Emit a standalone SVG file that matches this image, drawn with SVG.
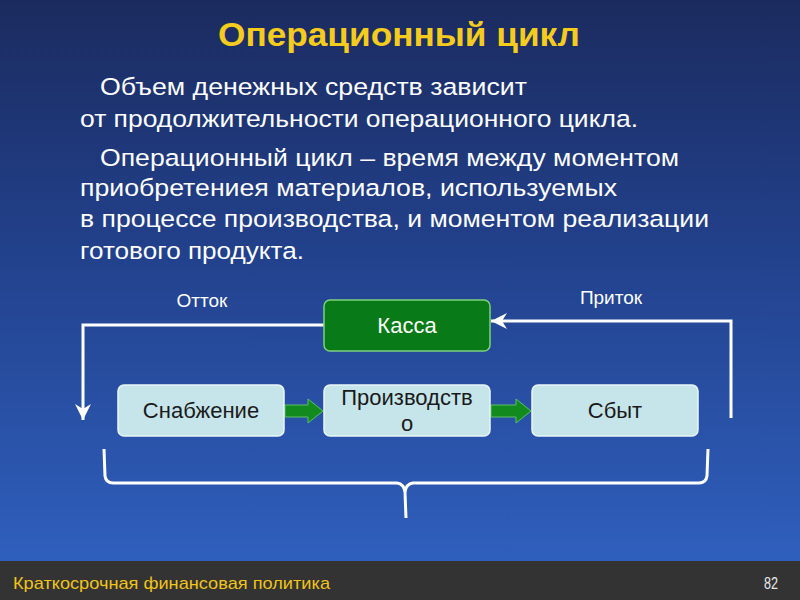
<svg xmlns="http://www.w3.org/2000/svg" width="800" height="600" viewBox="0 0 800 600">
<defs>
<linearGradient id="bg" x1="0" y1="0" x2="0" y2="1">
<stop offset="0" stop-color="#1b2b5f"/>
<stop offset="0.45" stop-color="#22418c"/>
<stop offset="1" stop-color="#2f5fbd"/>
</linearGradient>
<marker id="open" viewBox="0 0 20 20" refX="18" refY="10" markerWidth="20" markerHeight="20" markerUnits="userSpaceOnUse" orient="auto">
<path d="M2,2 L18,10 L2,18 L7,10 Z" fill="#ffffff"/>
</marker>
</defs>
<style>
.body{font-family:"Liberation Sans",Arial,sans-serif;font-size:24.5px;fill:#ffffff}
.lbl{font-family:"Liberation Sans",Arial,sans-serif;font-size:19px;fill:#ffffff}
.box{fill:#c6e5ea;stroke:#e8f6f8;stroke-width:1.5}
.btxt{font-family:"Liberation Sans",Arial,sans-serif;font-size:22px;fill:#1a1a1a;text-anchor:middle}
.flow{fill:none;stroke:#ffffff;stroke-width:3}
.garrow{fill:#138a1e;stroke:#5cc060;stroke-width:1}
</style>
<rect x="0" y="0" width="800" height="562" fill="url(#bg)"/>
<rect x="0" y="561" width="800" height="39" fill="#333333"/>
<text x="399" y="46" text-anchor="middle" font-family="Liberation Sans, Arial, sans-serif" font-size="34" font-weight="bold" fill="#f5cc1c" textLength="362" lengthAdjust="spacingAndGlyphs">Операционный цикл</text>
<g id="paragraph">
<text class="body" x="100" y="95" textLength="427" lengthAdjust="spacingAndGlyphs">Объем денежных средств зависит</text>
<text class="body" x="80" y="127" textLength="558" lengthAdjust="spacingAndGlyphs">от продолжительности операционного цикла.</text>
<text class="body" x="100" y="166" textLength="579" lengthAdjust="spacingAndGlyphs">Операционный цикл – время между моментом</text>
<text class="body" x="80" y="196" textLength="537" lengthAdjust="spacingAndGlyphs">приобретениея материалов, используемых</text>
<text class="body" x="80" y="227" textLength="629" lengthAdjust="spacingAndGlyphs">в процессе производства, и моментом реализации</text>
<text class="body" x="80" y="259" textLength="224" lengthAdjust="spacingAndGlyphs">готового продукта.</text>
</g>
<g id="connectors">
<polyline class="flow" points="324,325 83,325 83,420" marker-end="url(#open)"/>
<polyline class="flow" points="731,418 731,321 491,321" marker-end="url(#open)"/>
<path class="garrow" d="M285,405 L308,405 L308,399 L323,411 L308,423 L308,417 L285,417 Z"/>
<path class="garrow" d="M491,405 L516,405 L516,399 L531,411 L516,423 L516,417 L491,417 Z"/>
<path d="M104,449 L105,476 Q106,483 113,483 L397,483 Q404,484 405,492 L406,518 M405,492 Q406,484 413,483 L699,483 Q706,483 707,476 L708,449" fill="none" stroke="#ffffff" stroke-width="3" stroke-linejoin="round"/>
<text class="lbl" x="202" y="307" text-anchor="middle">Отток</text>
<text class="lbl" x="611" y="304" text-anchor="middle">Приток</text>
</g>
<g id="kassa">
<rect x="324" y="300" width="166" height="51" rx="6" fill="#087a17" stroke="#7fd17f" stroke-width="1.5"/>
<text x="407" y="333" text-anchor="middle" font-family="Liberation Sans, Arial, sans-serif" font-size="22" fill="#ffffff">Касса</text>
</g>
<g id="snabzhenie">
<rect class="box" x="118" y="385" width="166" height="51" rx="6"/>
<text class="btxt" x="201" y="418">Снабжение</text>
</g>
<g id="proizvodstvo">
<rect class="box" x="324" y="385" width="166" height="51" rx="6"/>
<text class="btxt" x="407" y="405">Производств</text>
<text class="btxt" x="407" y="431">о</text>
</g>
<g id="sbyt">
<rect class="box" x="532" y="385" width="166" height="51" rx="6"/>
<text class="btxt" x="615" y="418">Сбыт</text>
</g>
<text x="13" y="589" font-family="Liberation Sans, Arial, sans-serif" font-size="17" fill="#f0c419" textLength="317" lengthAdjust="spacingAndGlyphs">Краткосрочная финансовая политика</text>
<text x="778" y="589" text-anchor="end" font-family="Liberation Sans, Arial, sans-serif" font-size="16" fill="#e8e8e8" textLength="14" lengthAdjust="spacingAndGlyphs">82</text>
</svg>
